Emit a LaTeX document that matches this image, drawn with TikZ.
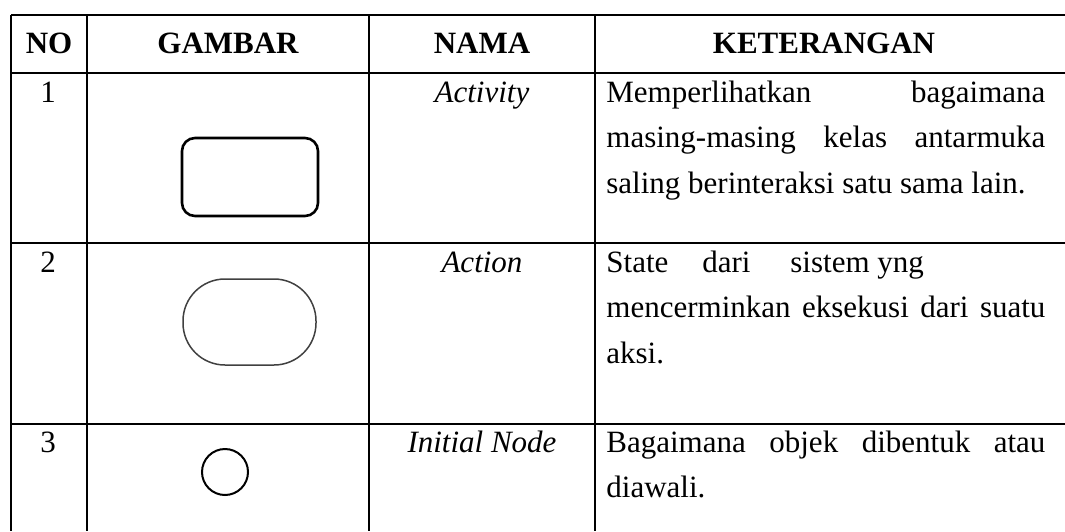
\documentclass[tikz,border=0pt]{standalone}
\usepackage{fontspec}
\setmainfont{Liberation Serif}
\tikzset{
  rule/.style={line width=1.2pt, black},
  celltext/.style={inner sep=0pt, font=\fontsize{15.5}{18}\selectfont},
  headtext/.style={celltext, anchor=base, font=\fontsize{15.5}{18}\selectfont\bfseries},
  numtext/.style={celltext, anchor=base},
  itemname/.style={celltext, anchor=base, font=\fontsize{15.5}{18}\selectfont\itshape},
  desctext/.style={celltext, anchor=base west},
  activitybox/.style={line width=1.3pt, black, rounded corners=6.5pt},
  actionbox/.style={line width=0.75pt, black!75, rounded corners=21pt},
  initcircle/.style={line width=1pt, black}
}
\begin{document}
\begin{tikzpicture}[x=0.5pt,y=-0.5pt]
\useasboundingbox (0,0) rectangle (1065,531);

% horizontal rules (table runs on past the right and bottom edges)
\foreach \y in {15,73,243,424}
  \draw[rule] (11,\y) -- (1065,\y);
% vertical rules
\foreach \x in {11,87,369,595}
  \draw[rule] (\x,15) -- (\x,531);

% header row
\node[headtext] (hno)  at (49,53)  {NO};
\node[headtext] (hgam) at (228,53) {GAMBAR};
\node[headtext] (hnam) at (482,53) {NAMA};
\node[headtext] (hket) at (824,53) {KETERANGAN};

% row numbers
\node[numtext] (n1) at (48,102) {1};
\node[numtext] (n2) at (48,272) {2};
\node[numtext] (n3) at (48,452) {3};

% names
\node[itemname] (a1) at (482,102) {Activity};
\node[itemname] (a2) at (482,272) {Action};
\node[itemname] (a3) at (482,452) {Initial Node};

% descriptions
\node[desctext] (d11) at (606,102) {\makebox[219.5pt][s]{Memperlihatkan bagaimana}};
\node[desctext] (d12) at (606,147) {\makebox[219.5pt][s]{masing-masing kelas antarmuka}};
\node[desctext] (d13) at (606,193) {saling berinteraksi satu sama lain.};

\node[desctext] (d21a) at (606,272) {State};
\node[desctext] (d21b) at (702,272) {dari};
\node[desctext] (d21c) at (790,272) {sistem yng};
\node[desctext] (d22) at (606,317) {\makebox[219.5pt][s]{mencerminkan eksekusi dari suatu}};
\node[desctext] (d23) at (606,363) {aksi.};

\node[desctext] (d31) at (606,452) {\makebox[219.5pt][s]{Bagaimana objek dibentuk atau}};
\node[desctext] (d32) at (606,497) {diawali.};

% symbols
\draw[activitybox] (182,138) rectangle (318,216);
\draw[actionbox] (183,279) rectangle (316,365);
\draw[initcircle] (225,472) circle (11.5pt);
\end{tikzpicture}
\end{document}
